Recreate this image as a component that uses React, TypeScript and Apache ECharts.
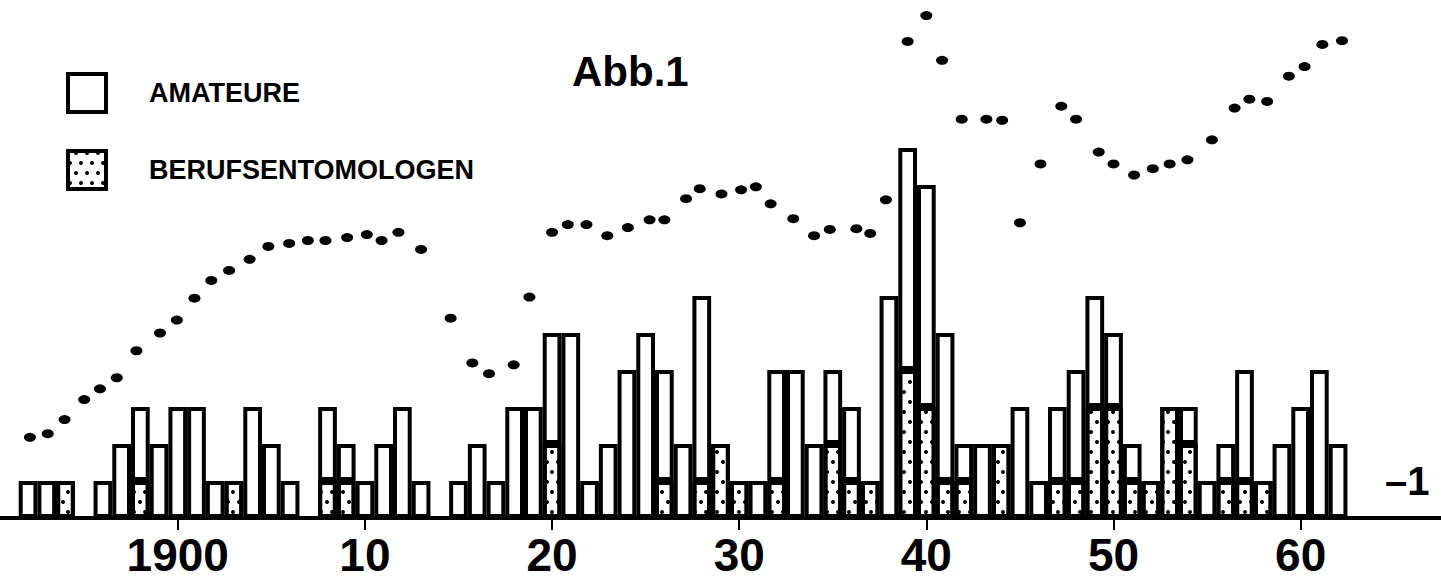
import React, { useEffect, useRef } from "react";
import * as echarts from "echarts";

// ---- data ----
const firstYear = 1891;
const lastAxisYear = 1967;
const yearCategories: string[] = [];
for (let y = firstYear; y <= lastAxisYear; y++) yearCategories.push(String(y));

// amateurs (white part of each bar), 1891..1962
const amateurs = [
  0, 1, 1, 0, 0, 1, 2, 2, 2, 3,
  3, 1, 0, 3, 2, 1, 0, 2, 1, 1,
  2, 3, 1, 0, 1, 2, 1, 3, 3, 3,
  5, 1, 2, 4, 5, 3, 2, 5, 0, 0,
  1, 3, 4, 2, 2, 2, 0, 6, 6, 6,
  4, 1, 2, 0, 3, 1, 2, 3, 3, 2,
  1, 0, 0, 1, 1, 1, 3, 0, 2, 3,
  4, 2,
];
// professional entomologists (dotted part), 1891..1962
const professionals = [
  0, 0, 0, 1, 0, 0, 0, 1, 0, 0,
  0, 0, 1, 0, 0, 0, 0, 1, 1, 0,
  0, 0, 0, 0, 0, 0, 0, 0, 0, 2,
  0, 0, 0, 0, 0, 1, 0, 1, 2, 1,
  0, 1, 0, 0, 2, 1, 1, 0, 4, 3,
  1, 1, 0, 2, 0, 0, 1, 1, 3, 3,
  1, 1, 3, 2, 0, 1, 1, 1, 0, 0,
  0, 0,
];

// dotted curve (positions, in bar units)
const dotYears = [
  1892.1, 1893.05, 1893.95, 1895.0, 1895.84, 1896.74, 1897.79, 1899.05, 1899.95, 1900.89,
  1901.79, 1902.74, 1903.84, 1904.84, 1905.95, 1906.95, 1907.89, 1909.05, 1910.1, 1910.89,
  1911.79, 1913.0, 1914.58, 1915.74, 1916.63, 1917.95, 1918.79, 1920.0, 1920.84, 1921.84,
  1922.95, 1924.05, 1925.21, 1926.0, 1927.16, 1927.89, 1929.05, 1930.1, 1930.89, 1931.68,
  1932.89, 1934.0, 1934.84, 1936.26, 1937.0, 1937.84, 1939.0, 1940.0, 1940.84, 1941.89,
  1943.21, 1944.05, 1945.0, 1946.1, 1947.21, 1948.0, 1949.21, 1950.0, 1951.1, 1952.1,
  1953.0, 1953.95, 1955.26, 1956.47, 1957.26, 1958.21, 1959.37, 1960.21, 1961.16, 1962.21,
];
const dotValues = [
  2.18, 2.28, 2.66, 3.2, 3.49, 3.79, 4.52, 5.0, 5.35, 5.94,
  6.42, 6.69, 6.99, 7.34, 7.42, 7.5, 7.5, 7.58, 7.66, 7.5,
  7.72, 7.26, 5.4, 4.19, 3.9, 4.14, 5.97, 7.72, 7.93, 7.93,
  7.63, 7.85, 8.06, 8.06, 8.63, 8.9, 8.76, 8.87, 8.95, 8.49,
  8.09, 7.63, 7.8, 7.82, 7.69, 8.6, 12.88, 13.58, 12.37, 10.78,
  10.78, 10.75, 7.98, 9.57, 11.13, 10.78, 9.89, 9.57, 9.27, 9.44,
  9.57, 9.68, 10.22, 11.08, 11.32, 11.26, 11.94, 12.2, 12.8, 12.9,
];

const tickYears = ["1900", "1910", "1920", "1930", "1940", "1950", "1960"];
const tickLabels = ["1900", "10", "20", "30", "40", "50", "60"];
const unitValue = 1;
const unitLabel = "\u20131";

const seriesNames = ["AMATEURE", "BERUFSENTOMOLOGEN"];
const title = "Abb.1";

const FONT = "'Liberation Sans', Arial, Helvetica, sans-serif";

export default function App() {
  const ref = useRef<HTMLDivElement>(null);

  useEffect(() => {
    if (!ref.current) return;
    const chart = echarts.init(ref.current, null, { renderer: "svg" });

    const dotDecal = {
      symbol: "circle",
      symbolSize: 1,
      color: "#000",
      backgroundColor: "#fff",
      dashArrayX: [[4, 7], [0, 6, 4, 1]],
      dashArrayY: [4, 6],
      rotation: 0,
    };

    const nz = (v: number) => (v === 0 ? null : v);

    const option: any = {
      animation: false,
      backgroundColor: "#fff",
      textStyle: { fontFamily: FONT, color: "#000" },
      title: {
        text: title,
        left: 572,
        top: 50,
        padding: 0,
        textStyle: { fontFamily: FONT, fontSize: 42, fontWeight: "bold", color: "#000" },
      },
      legend: {
        data: seriesNames,
        orient: "vertical",
        left: 66,
        top: 72,
        padding: 0,
        itemGap: 35,
        itemWidth: 38,
        itemHeight: 38,
        icon: "rect",
        selectedMode: false,
        itemStyle: { borderColor: "#000", borderWidth: 4 },
        textStyle: {
          fontFamily: FONT,
          fontSize: 27,
          fontWeight: "bold",
          color: "#000",
          padding: [0, 0, 0, 38],
        },
      },
      grid: { left: -9.5, right: -12.5, top: -2.8, bottom: 65, containLabel: false },
      xAxis: [
        {
          type: "category",
          data: yearCategories,
          boundaryGap: true,
          axisLine: { show: true, lineStyle: { color: "#000", width: 4 } },
          axisTick: {
            show: true,
            alignWithLabel: true,
            length: 12,
            lineStyle: { color: "#000", width: 2 },
            interval: (_i: number, v: string) => tickYears.includes(v),
          },
          axisLabel: {
            show: true,
            margin: 14,
            interval: (_i: number, v: string) => tickYears.includes(v),
            formatter: (v: string) => tickLabels[tickYears.indexOf(v)] ?? "",
            fontFamily: FONT,
            fontSize: 46,
            fontWeight: "bold",
            color: "#000",
          },
          splitLine: { show: false },
        },
        {
          type: "value",
          min: firstYear - 0.5,
          max: lastAxisYear + 0.5,
          show: false,
        },
      ],
      yAxis: {
        type: "value",
        position: "right",
        offset: -60,
        min: 0,
        max: 14,
        interval: 1,
        axisLine: { show: false },
        axisTick: { show: false },
        splitLine: { show: false },
        axisLabel: {
          show: true,
          margin: 4,
          formatter: (v: number) => (v === unitValue ? unitLabel : ""),
          fontFamily: FONT,
          fontSize: 40,
          fontWeight: "bold",
          color: "#000",
        },
      },
      series: [
        {
          name: seriesNames[1],
          type: "bar",
          stack: "total",
          xAxisIndex: 0,
          barCategoryGap: "0%",
          data: professionals.map(nz),
          itemStyle: { color: "#fff", borderColor: "#000", borderWidth: 4, decal: dotDecal },
        },
        {
          name: seriesNames[0],
          type: "bar",
          stack: "total",
          xAxisIndex: 0,
          barCategoryGap: "0%",
          data: amateurs.map(nz),
          itemStyle: { color: "#fff", borderColor: "#000", borderWidth: 4 },
        },
        {
          name: "dots",
          type: "scatter",
          xAxisIndex: 1,
          symbol: "circle",
          symbolSize: [12, 9],
          itemStyle: { color: "#000", opacity: 1 },
          data: dotYears.map((y, i) => [y, dotValues[i]]),
          z: 5,
        },
      ],
    };

    chart.setOption(option);
    return () => chart.dispose();
  }, []);

  return (
    <div
      ref={ref}
      style={{ position: "absolute", left: 0, top: 0, width: 1441, height: 583, background: "#fff" }}
    />
  );
}
